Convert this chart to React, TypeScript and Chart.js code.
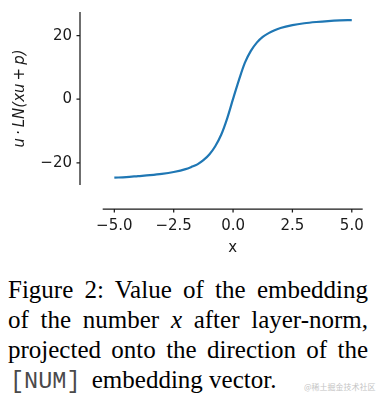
import React, { useEffect, useRef } from "react";
import { Chart, registerables } from "chart.js";

Chart.register(...registerables);

// ---- data ----
const xValues = [-5, -4.5, -4, -3.5, -3, -2.5, -2, -1.75, -1.5, -1.25, -1, -0.75, -0.5, -0.25, 0, 0.25, 0.5, 0.75, 1, 1.25, 1.5, 1.75, 2, 2.5, 3, 3.5, 4, 4.5, 5];
const yValues = [-24.7, -24.5, -24.2, -23.9, -23.5, -22.9, -22.0, -21.3, -20.5, -19.2, -17.4, -14.8, -11.2, -6.1, 0.1, 6.1, 11.5, 15.2, 17.8, 19.6, 20.8, 21.7, 22.4, 23.3, 23.9, 24.3, 24.6, 24.8, 24.9];

const xTicks = [-5, -2.5, 0, 2.5, 5];
const xTickLabels = ["\u22125.0", "\u22122.5", "0.0", "2.5", "5.0"];
const yTicks = [-20, 0, 20];
const yTickLabels = ["\u221220", "0", "20"];

const xTitle = "x";
const yTitle = "u\u2009\u00b7\u2009LN(xu\u2009+\u2009p)";

const xMin = -5.49;
const xMax = 5.46;
const yMin = -27.0;
const yMax = 27.45;

const lineColor = "#1f77b4";
const inkColor = "#1a1a1a";
const tickFont = { family: "DejaVu Sans", size: 15 };

const spinePlugin = {
  id: "offsetSpines",
  afterDraw(chart: any) {
    const { ctx, chartArea, scales } = chart;
    const xs = scales.x;
    const ys = scales.y;
    const spineX = chartArea.left - 22.7;
    const spineY = chartArea.bottom + 24;
    ctx.save();
    ctx.strokeStyle = inkColor;
    ctx.lineWidth = 1.25;
    ctx.beginPath();
    ctx.moveTo(spineX, chartArea.top);
    ctx.lineTo(spineX, chartArea.bottom);
    yTicks.forEach((v) => {
      const p = ys.getPixelForValue(v);
      ctx.moveTo(spineX, p);
      ctx.lineTo(spineX - 3.5, p);
    });
    ctx.moveTo(chartArea.left, spineY);
    ctx.lineTo(chartArea.right, spineY);
    xTicks.forEach((v) => {
      const p = xs.getPixelForValue(v);
      ctx.moveTo(p, spineY);
      ctx.lineTo(p, spineY + 3.5);
    });
    ctx.stroke();
    ctx.restore();
  },
};

const zeroPadding = (s: any) => {
  s.paddingTop = 0;
  s.paddingBottom = 0;
  s.paddingLeft = 0;
  s.paddingRight = 0;
};

function ChartCanvas() {
  const ref = useRef<HTMLCanvasElement | null>(null);
  useEffect(() => {
    if (!ref.current) return;
    const points = xValues.map((x, i) => ({ x, y: yValues[i] }));
    const chart = new Chart(ref.current, {
      type: "line",
      data: {
        datasets: [
          {
            data: points,
            borderColor: lineColor,
            borderWidth: 2.2,
            pointRadius: 0,
            fill: false,
            cubicInterpolationMode: "monotone",
          },
        ],
      },
      options: {
        responsive: false,
        animation: false,
        events: [],
        layout: { padding: { top: 12, right: 16.3, left: 0, bottom: 0 } },
        plugins: { legend: { display: false }, tooltip: { enabled: false } },
        scales: {
          x: {
            type: "linear",
            min: xMin,
            max: xMax,
            afterBuildTicks: (s: any) => {
              s.ticks = xTicks.map((v) => ({ value: v }));
            },
            afterFit: (s: any) => {
              s.height = 77;
              zeroPadding(s);
            },
            grid: { display: false, drawTicks: false },
            border: { display: false },
            ticks: {
              autoSkip: false,
              maxRotation: 0,
              padding: 32,
              color: inkColor,
              font: tickFont,
              callback: (_v: any, i: number) => xTickLabels[i],
            },
            title: {
              display: true,
              text: xTitle,
              color: inkColor,
              font: tickFont,
              padding: { top: 0, bottom: 5 },
            },
          },
          y: {
            type: "linear",
            min: yMin,
            max: yMax,
            afterBuildTicks: (s: any) => {
              s.ticks = yTicks.map((v) => ({ value: v }));
            },
            afterFit: (s: any) => {
              s.width = 102.7;
              zeroPadding(s);
            },
            grid: { display: false, drawTicks: false },
            border: { display: false },
            ticks: {
              autoSkip: false,
              padding: 30.7,
              color: inkColor,
              font: tickFont,
              callback: (_v: any, i: number) => yTickLabels[i],
            },
            title: {
              display: true,
              text: yTitle,
              color: inkColor,
              font: { family: "DejaVu Sans", size: 15, style: "italic" },
              padding: { top: 11, bottom: 0 },
            },
          },
        },
      },
      plugins: [spinePlugin],
    } as any);
    return () => chart.destroy();
  }, []);
  return <canvas ref={ref} width={379} height={262} style={{ display: "block" }} />;
}

export default function App() {
  return (
    <div
      style={{
        position: "absolute",
        left: 0,
        top: 0,
        width: 379,
        height: 396,
        background: "#fff",
        overflow: "hidden",
      }}
    >
      <ChartCanvas />
      <div
        style={{
          position: "absolute",
          left: 8,
          top: 275,
          width: 360,
          fontFamily: '"Liberation Serif", "Times New Roman", serif',
          fontSize: 25,
          lineHeight: "30px",
          textAlign: "justify",
          color: "#000",
        }}
      >
        Figure 2: Value of the embedding of the number <i>x</i> after layer-norm,
        projected onto the direction of the{" "}
        <span
          style={{
            fontFamily: '"Liberation Mono", monospace',
            fontSize: 23.5,
            color: "#4a4a4a",
            paddingLeft: 2,
            marginRight: 5,
          }}
        >
          [NUM]
        </span>{" "}
        embedding vector.
      </div>
      <div
        style={{
          position: "absolute",
          left: 304,
          top: 382,
          fontFamily: '"Noto Sans CJK SC", sans-serif',
          fontSize: 8,
          lineHeight: "10px",
          color: "#c4c4c4",
          whiteSpace: "nowrap",
        }}
      >
        @稀土掘金技术社区
      </div>
    </div>
  );
}
